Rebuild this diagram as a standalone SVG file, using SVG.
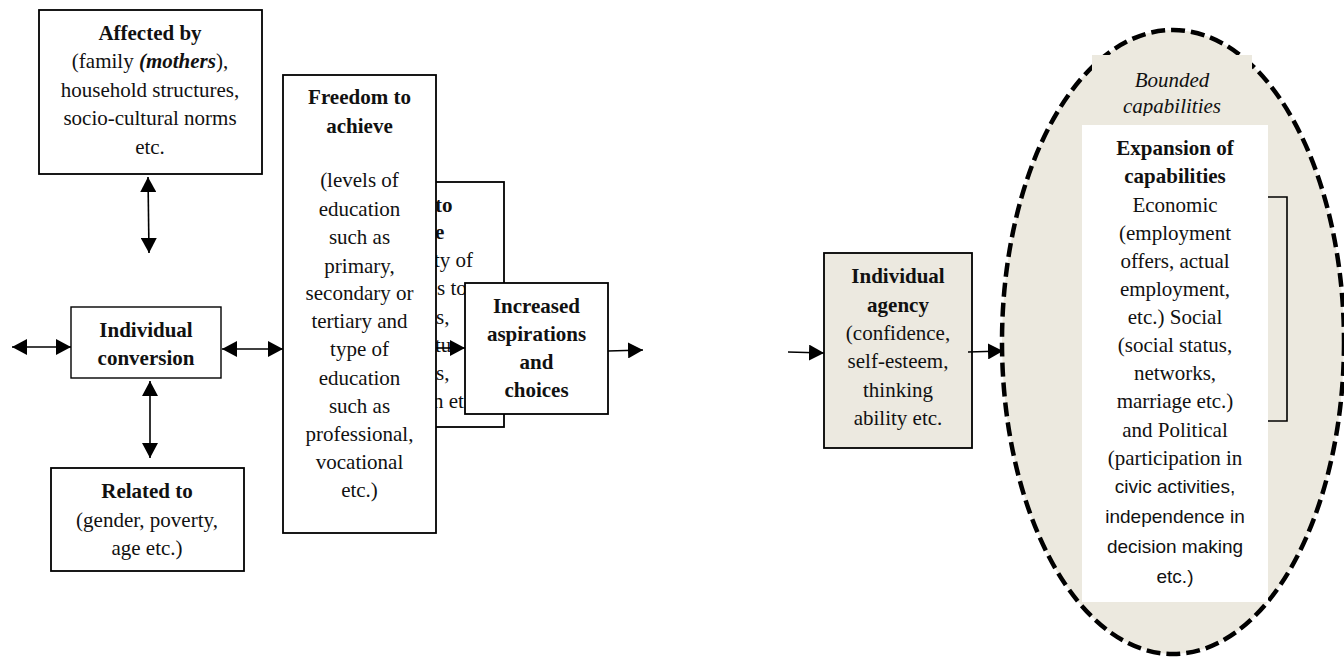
<svg xmlns="http://www.w3.org/2000/svg" width="1344" height="659" viewBox="0 0 1344 659">
<style>
  .box { fill: #ffffff; stroke: #000000; stroke-width: 1.8; }
  .agency { fill: #ECE9E0; stroke: #000000; stroke-width: 1.8; }
  .t { font-family: "Liberation Serif", "Times New Roman", serif; font-size: 21px; fill: #111111; text-anchor: middle; }
  .b { font-weight: bold; }
  .i { font-style: italic; }
  .s { font-family: "Liberation Sans", Arial, sans-serif; font-size: 19px; fill: #111111; text-anchor: middle; }
  .frag { font-family: "Liberation Serif", "Times New Roman", serif; font-size: 21px; fill: #111111; }
  .line { fill: none; stroke: #000000; stroke-width: 1.6; }
</style>
<defs>
  <marker id="ah" viewBox="0 0 15 16" refX="15" refY="8" markerWidth="15" markerHeight="16" markerUnits="userSpaceOnUse" orient="auto-start-reverse">
    <path d="M0,0 L15,8 L0,16 Z" fill="#000000"/>
  </marker>
  <clipPath id="boundedClip">
    <rect x="1092" y="55" width="160" height="61"/>
  </clipPath>
</defs>
<rect width="1344" height="659" fill="#ffffff"/>

<!-- Bounded capabilities ellipse -->
<g id="bounded">
  <ellipse cx="1173" cy="342" rx="171" ry="312" fill="#ECE9DF" stroke="#000000" stroke-width="4.5" stroke-dasharray="14 6"/>
  <rect x="1092" y="55" width="160" height="61" fill="#ECE9DF"/>
  <g clip-path="url(#boundedClip)">
    <text class="t i" x="1172" y="87">Bounded</text>
    <text class="t i" x="1172" y="113">capabilities</text>
  </g>
</g>

<g id="expansion">
  <rect x="1082" y="125" width="186" height="477" fill="#ffffff"/>
  <text class="t b" x="1175" y="155">Expansion of</text>
  <text class="t b" x="1175" y="183">capabilities</text>
  <text class="t" x="1175" y="212">Economic</text>
  <text class="t" x="1175" y="240">(employment</text>
  <text class="t" x="1175" y="268">offers, actual</text>
  <text class="t" x="1175" y="296">employment,</text>
  <text class="t" x="1175" y="324">etc.) Social</text>
  <text class="t" x="1175" y="352">(social status,</text>
  <text class="t" x="1175" y="380">networks,</text>
  <text class="t" x="1175" y="408">marriage etc.)</text>
  <text class="t" x="1175" y="437">and Political</text>
  <text class="t" x="1175" y="465">(participation in</text>
  <text class="s" x="1175" y="493">civic activities,</text>
  <text class="s" x="1175" y="523">independence in</text>
  <text class="s" x="1175" y="553">decision making</text>
  <text class="s" x="1175" y="583">etc.)</text>
  <path class="line" d="M1268,197 H1287 V421 H1268"/>
</g>

<!-- Hidden box behind Freedom to achieve -->
<g id="hidden-box">
  <rect class="box" x="400" y="182" width="104" height="245"/>
  <text class="frag b" x="435" y="212">to</text>
  <text class="frag b" x="435" y="239">e</text>
  <text class="frag" x="434" y="267">ty of</text>
  <text class="frag" x="437" y="295">s to</text>
  <text class="frag" x="436" y="324">s,</text>
  <text class="frag" x="435" y="352">tu</text>
  <text class="frag" x="436" y="380">s,</text>
  <text class="frag" x="433" y="408">n etc</text>
</g>

<g id="affected">
  <rect class="box" x="39" y="10" width="223" height="164"/>
  <text class="t b" x="150" y="40">Affected by</text>
  <text class="t" x="150" y="68">(family  <tspan class="b i">(mothers</tspan>),</text>
  <text class="t" x="150" y="97">household structures,</text>
  <text class="t" x="150" y="125">socio-cultural norms</text>
  <text class="t" x="150" y="154">etc.</text>
</g>

<g id="conversion">
  <rect class="box" x="71" y="307" width="150" height="71" style="stroke-width:1.4"/>
  <text class="t b" x="146" y="337">Individual</text>
  <text class="t b" x="146" y="365">conversion</text>
</g>

<g id="related">
  <rect class="box" x="51" y="468" width="193" height="103"/>
  <text class="t b" x="147" y="498">Related to</text>
  <text class="t" x="147" y="527">(gender, poverty,</text>
  <text class="t" x="147" y="555">age etc.)</text>
</g>

<g id="freedom">
  <rect class="box" x="283" y="75" width="153" height="458"/>
  <text class="t b" x="359.5" y="104">Freedom to</text>
  <text class="t b" x="359.5" y="133">achieve</text>
  <text class="t" x="359.5" y="187">(levels of</text>
  <text class="t" x="359.5" y="216">education</text>
  <text class="t" x="359.5" y="244">such as</text>
  <text class="t" x="359.5" y="273">primary,</text>
  <text class="t" x="359.5" y="300">secondary or</text>
  <text class="t" x="359.5" y="328">tertiary and</text>
  <text class="t" x="359.5" y="356">type of</text>
  <text class="t" x="359.5" y="385">education</text>
  <text class="t" x="359.5" y="413">such as</text>
  <text class="t" x="359.5" y="441">professional,</text>
  <text class="t" x="359.5" y="469">vocational</text>
  <text class="t" x="359.5" y="497">etc.)</text>
</g>

<g id="aspirations">
  <rect class="box" x="465" y="283" width="143" height="131"/>
  <text class="t b" x="536.5" y="313">Increased</text>
  <text class="t b" x="536.5" y="341">aspirations</text>
  <text class="t b" x="536.5" y="369">and</text>
  <text class="t b" x="536.5" y="397">choices</text>
</g>

<g id="agency">
  <rect class="agency" x="824" y="253" width="148" height="195"/>
  <text class="t b" x="898" y="283">Individual</text>
  <text class="t b" x="898" y="312">agency</text>
  <text class="t" x="898" y="340">(confidence,</text>
  <text class="t" x="898" y="368">self-esteem,</text>
  <text class="t" x="898" y="397">thinking</text>
  <text class="t" x="898" y="425">ability etc.</text>
</g>

<g id="connectors">
  <line class="line" x1="148" y1="177" x2="149" y2="253" marker-start="url(#ah)" marker-end="url(#ah)"/>
  <line class="line" x1="150" y1="381" x2="150" y2="458" marker-start="url(#ah)" marker-end="url(#ah)"/>
  <line class="line" x1="12" y1="347" x2="71" y2="347" marker-start="url(#ah)" marker-end="url(#ah)"/>
  <line class="line" x1="222" y1="349" x2="283" y2="349" marker-start="url(#ah)" marker-end="url(#ah)"/>
  <line class="line" x1="436" y1="348" x2="465" y2="348" marker-end="url(#ah)"/>
  <line class="line" x1="608" y1="351" x2="643" y2="350" marker-end="url(#ah)"/>
  <line class="line" x1="788" y1="352" x2="824" y2="353" marker-end="url(#ah)"/>
  <line class="line" x1="968" y1="352" x2="1003" y2="351" marker-end="url(#ah)"/>
</g>
</svg>
